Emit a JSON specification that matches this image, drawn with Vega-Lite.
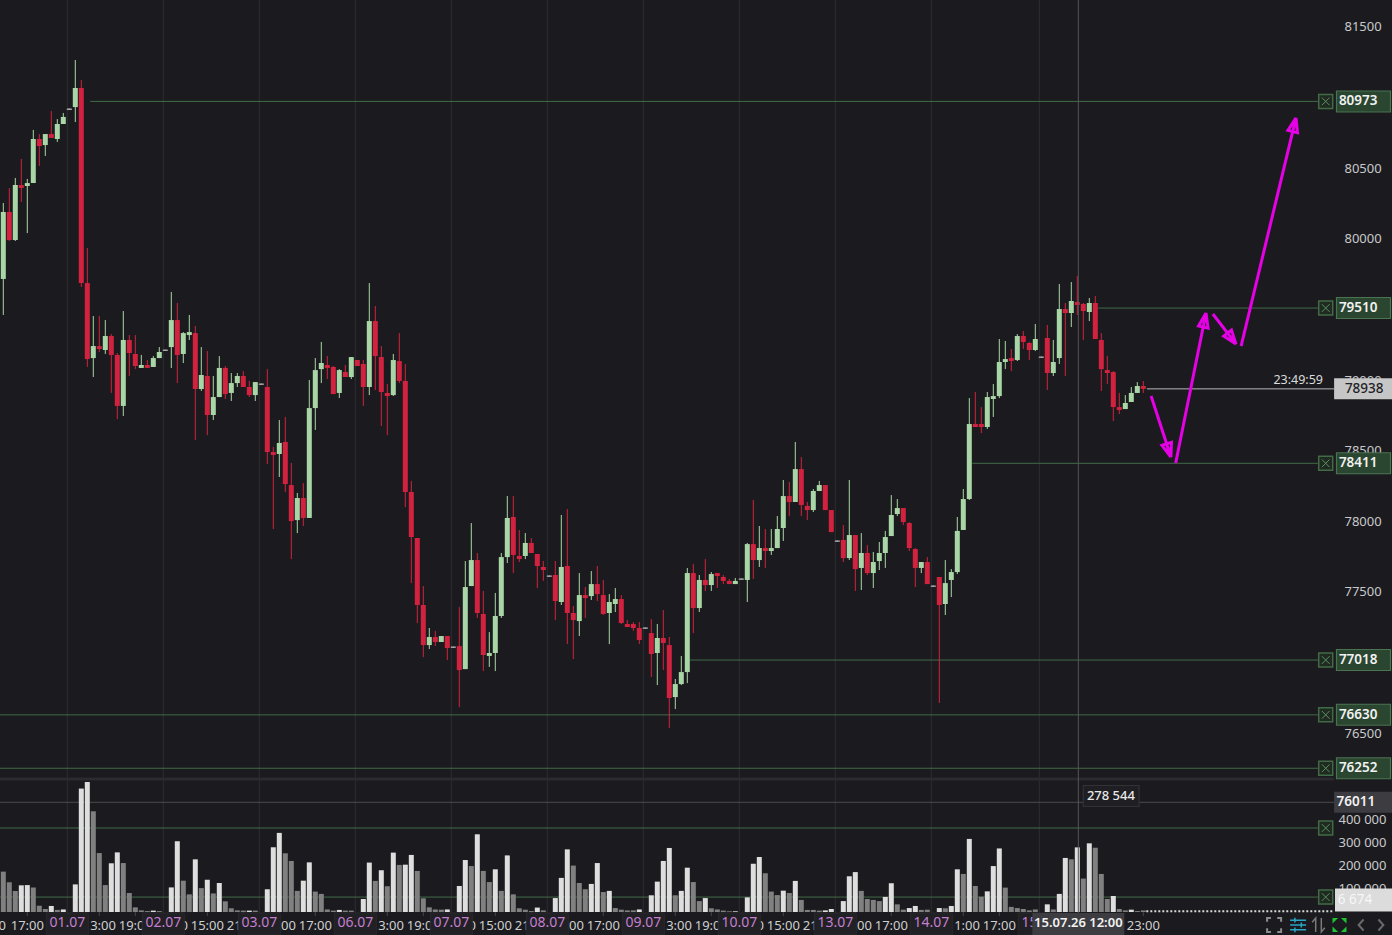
{
"$schema":"https://vega.github.io/schema/vega-lite/v6.json",
"width":1334,"height":935,"padding":0,"autosize":{"type":"pad"},"background":"#1b1b1f",
"config":{"view":{"stroke":null},"axisX":{"disable":true},"text":{"font":"Noto Sans"},"axis":{"labelFont":"Noto Sans"}},
"datasets":{
"candles":[
{"t":0,"o":79716,"h":80254,"l":79461,"c":80190,"d":"up","v":174000,"k":"dark"},
{"t":1,"o":80190,"h":80360,"l":79985,"c":79992,"d":"down","v":128000,"k":"dark"},
{"t":2,"o":79992,"h":80431,"l":79985,"c":80381,"d":"up","v":90000,"k":"dark"},
{"t":3,"o":80381,"h":80565,"l":80261,"c":80360,"d":"down","v":115000,"k":"light"},
{"t":4,"o":80374,"h":80424,"l":80041,"c":80395,"d":"up","v":116000,"k":"light"},
{"t":5,"o":80395,"h":80771,"l":80395,"c":80707,"d":"up","v":106000,"k":"dark"},
{"t":6,"o":80707,"h":80742,"l":80516,"c":80657,"d":"down","v":27000,"k":"dark"},
{"t":7,"o":80664,"h":80742,"l":80587,"c":80742,"d":"up","v":13000,"k":"dark"},
{"t":8,"o":80742,"h":80905,"l":80714,"c":80714,"d":"down","v":26000,"k":"light"},
{"t":9,"o":80707,"h":80848,"l":80686,"c":80813,"d":"up","v":9000,"k":"dark"},
{"t":10,"o":80813,"h":80891,"l":80813,"c":80863,"d":"up","v":11000,"k":"light"},
{"t":11,"o":80923,"h":80923,"l":80912,"c":80912,"d":"flat","v":0,"k":"dark"},
{"t":12,"o":80933,"h":81266,"l":80827,"c":81068,"d":"up","v":119000,"k":"light"},
{"t":13,"o":81068,"h":81125,"l":79659,"c":79687,"d":"down","v":532000,"k":"light"},
{"t":14,"o":79687,"h":79935,"l":79093,"c":79149,"d":"down","v":560000,"k":"light"},
{"t":15,"o":79156,"h":79454,"l":79022,"c":79241,"d":"up","v":434000,"k":"dark"},
{"t":16,"o":79241,"h":79454,"l":79199,"c":79220,"d":"down","v":254000,"k":"dark"},
{"t":17,"o":79213,"h":79425,"l":79185,"c":79312,"d":"up","v":116000,"k":"dark"},
{"t":18,"o":79312,"h":79326,"l":78909,"c":79178,"d":"down","v":210000,"k":"light"},
{"t":19,"o":79178,"h":79192,"l":78724,"c":78817,"d":"down","v":257000,"k":"light"},
{"t":20,"o":78817,"h":79489,"l":78746,"c":79284,"d":"up","v":211000,"k":"dark"},
{"t":21,"o":79284,"h":79319,"l":79029,"c":79192,"d":"down","v":82000,"k":"dark"},
{"t":22,"o":79185,"h":79319,"l":79078,"c":79100,"d":"down","v":20000,"k":"dark"},
{"t":23,"o":79086,"h":79178,"l":79086,"c":79107,"d":"up","v":7000,"k":"dark"},
{"t":24,"o":79107,"h":79142,"l":79086,"c":79086,"d":"down","v":4000,"k":"dark"},
{"t":25,"o":79093,"h":79170,"l":79093,"c":79156,"d":"up","v":6000,"k":"light"},
{"t":26,"o":79156,"h":79234,"l":79156,"c":79199,"d":"up","v":4000,"k":"dark"},
{"t":27,"o":79216,"h":79216,"l":79206,"c":79206,"d":"flat","v":0,"k":"dark"},
{"t":28,"o":79234,"h":79624,"l":79086,"c":79425,"d":"up","v":106000,"k":"light"},
{"t":29,"o":79425,"h":79546,"l":78979,"c":79178,"d":"down","v":305000,"k":"light"},
{"t":30,"o":79185,"h":79340,"l":79121,"c":79333,"d":"up","v":135000,"k":"dark"},
{"t":31,"o":79319,"h":79461,"l":79284,"c":79340,"d":"up","v":76000,"k":"dark"},
{"t":32,"o":79333,"h":79383,"l":78576,"c":78937,"d":"down","v":227000,"k":"light"},
{"t":33,"o":78937,"h":79234,"l":78923,"c":79036,"d":"up","v":103000,"k":"dark"},
{"t":34,"o":79029,"h":79206,"l":78611,"c":78753,"d":"down","v":139000,"k":"light"},
{"t":35,"o":78753,"h":79029,"l":78717,"c":78880,"d":"up","v":80000,"k":"dark"},
{"t":36,"o":78880,"h":79170,"l":78880,"c":79086,"d":"up","v":125000,"k":"light"},
{"t":37,"o":79086,"h":79100,"l":78866,"c":78901,"d":"down","v":46000,"k":"dark"},
{"t":38,"o":78909,"h":79050,"l":78852,"c":78979,"d":"up","v":16000,"k":"dark"},
{"t":39,"o":78979,"h":79050,"l":78951,"c":79029,"d":"up","v":7000,"k":"dark"},
{"t":40,"o":79029,"h":79064,"l":78951,"c":78951,"d":"down","v":6000,"k":"dark"},
{"t":41,"o":78951,"h":78994,"l":78880,"c":78894,"d":"down","v":6000,"k":"light"},
{"t":42,"o":78894,"h":78986,"l":78852,"c":78986,"d":"up","v":6000,"k":"dark"},
{"t":43,"o":78976,"h":78976,"l":78966,"c":78966,"d":"flat","v":0,"k":"dark"},
{"t":44,"o":78951,"h":79078,"l":78406,"c":78491,"d":"down","v":98000,"k":"light"},
{"t":45,"o":78491,"h":78526,"l":77946,"c":78470,"d":"down","v":279000,"k":"light"},
{"t":46,"o":78477,"h":78717,"l":78314,"c":78555,"d":"up","v":341000,"k":"light"},
{"t":47,"o":78562,"h":78739,"l":78208,"c":78264,"d":"down","v":253000,"k":"dark"},
{"t":48,"o":78257,"h":78413,"l":77733,"c":78002,"d":"down","v":220000,"k":"dark"},
{"t":49,"o":78009,"h":78201,"l":77917,"c":78165,"d":"up","v":91000,"k":"dark"},
{"t":50,"o":78165,"h":78271,"l":77967,"c":78024,"d":"down","v":135000,"k":"light"},
{"t":51,"o":78024,"h":79001,"l":78024,"c":78802,"d":"up","v":214000,"k":"light"},
{"t":52,"o":78802,"h":79156,"l":78647,"c":79071,"d":"up","v":88000,"k":"dark"},
{"t":53,"o":79078,"h":79270,"l":78979,"c":79121,"d":"up","v":78000,"k":"dark"},
{"t":54,"o":79107,"h":79170,"l":79008,"c":79086,"d":"down","v":11000,"k":"dark"},
{"t":55,"o":79093,"h":79100,"l":78901,"c":78901,"d":"down","v":6000,"k":"dark"},
{"t":56,"o":78909,"h":79078,"l":78873,"c":79071,"d":"up","v":9000,"k":"light"},
{"t":57,"o":79057,"h":79107,"l":79022,"c":79022,"d":"down","v":6000,"k":"dark"},
{"t":58,"o":79022,"h":79163,"l":79008,"c":79163,"d":"up","v":6000,"k":"dark"},
{"t":59,"o":79142,"h":79142,"l":79100,"c":79100,"d":"down","v":0,"k":"dark"},
{"t":60,"o":79114,"h":79142,"l":78817,"c":78951,"d":"down","v":56000,"k":"light"},
{"t":61,"o":78951,"h":79687,"l":78894,"c":79418,"d":"up","v":213000,"k":"light"},
{"t":62,"o":79418,"h":79525,"l":78930,"c":79170,"d":"down","v":134000,"k":"dark"},
{"t":63,"o":79163,"h":79241,"l":78675,"c":78916,"d":"down","v":180000,"k":"light"},
{"t":64,"o":78909,"h":78972,"l":78611,"c":78887,"d":"down","v":111000,"k":"dark"},
{"t":65,"o":78894,"h":79185,"l":78887,"c":79142,"d":"up","v":256000,"k":"light"},
{"t":66,"o":79135,"h":79333,"l":78979,"c":78994,"d":"down","v":203000,"k":"dark"},
{"t":67,"o":78994,"h":79114,"l":78101,"c":78208,"d":"down","v":204000,"k":"light"},
{"t":68,"o":78208,"h":78286,"l":77563,"c":77889,"d":"down","v":246000,"k":"light"},
{"t":69,"o":77882,"h":77882,"l":77280,"c":77408,"d":"down","v":177000,"k":"dark"},
{"t":70,"o":77408,"h":77542,"l":77039,"c":77124,"d":"down","v":59000,"k":"dark"},
{"t":71,"o":77124,"h":77245,"l":77096,"c":77181,"d":"up","v":20000,"k":"dark"},
{"t":72,"o":77181,"h":77224,"l":77117,"c":77146,"d":"down","v":11000,"k":"dark"},
{"t":73,"o":77146,"h":77188,"l":77146,"c":77188,"d":"up","v":10000,"k":"dark"},
{"t":74,"o":77188,"h":77188,"l":77018,"c":77103,"d":"down","v":11000,"k":"light"},
{"t":75,"o":77114,"h":77114,"l":77104,"c":77104,"d":"flat","v":0,"k":"dark"},
{"t":76,"o":77117,"h":77393,"l":76685,"c":76947,"d":"down","v":112000,"k":"light"},
{"t":77,"o":76954,"h":77719,"l":76954,"c":77535,"d":"up","v":224000,"k":"light"},
{"t":78,"o":77542,"h":77988,"l":77542,"c":77726,"d":"up","v":198000,"k":"dark"},
{"t":79,"o":77726,"h":77776,"l":77316,"c":77351,"d":"down","v":335000,"k":"light"},
{"t":80,"o":77344,"h":77507,"l":76940,"c":77054,"d":"down","v":177000,"k":"dark"},
{"t":81,"o":77047,"h":77216,"l":76969,"c":77068,"d":"up","v":129000,"k":"dark"},
{"t":82,"o":77068,"h":77493,"l":76940,"c":77330,"d":"up","v":184000,"k":"light"},
{"t":83,"o":77330,"h":77776,"l":77316,"c":77747,"d":"up","v":91000,"k":"dark"},
{"t":84,"o":77747,"h":78179,"l":77705,"c":78024,"d":"up","v":244000,"k":"light"},
{"t":85,"o":78031,"h":78179,"l":77634,"c":77762,"d":"down","v":76000,"k":"dark"},
{"t":86,"o":77755,"h":77939,"l":77712,"c":77733,"d":"down","v":16000,"k":"dark"},
{"t":87,"o":77755,"h":77917,"l":77733,"c":77847,"d":"up","v":10000,"k":"dark"},
{"t":88,"o":77847,"h":77882,"l":77776,"c":77776,"d":"down","v":4000,"k":"dark"},
{"t":89,"o":77769,"h":77769,"l":77528,"c":77684,"d":"down","v":19000,"k":"light"},
{"t":90,"o":77677,"h":77719,"l":77578,"c":77655,"d":"down","v":7000,"k":"dark"},
{"t":91,"o":77617,"h":77617,"l":77607,"c":77607,"d":"flat","v":0,"k":"dark"},
{"t":92,"o":77620,"h":77719,"l":77301,"c":77436,"d":"down","v":60000,"k":"light"},
{"t":93,"o":77429,"h":78045,"l":77408,"c":77677,"d":"up","v":147000,"k":"light"},
{"t":94,"o":77684,"h":78087,"l":77131,"c":77351,"d":"down","v":270000,"k":"light"},
{"t":95,"o":77351,"h":77401,"l":77025,"c":77301,"d":"down","v":200000,"k":"dark"},
{"t":96,"o":77294,"h":77634,"l":77188,"c":77478,"d":"up","v":125000,"k":"dark"},
{"t":97,"o":77478,"h":77535,"l":77316,"c":77457,"d":"down","v":98000,"k":"dark"},
{"t":98,"o":77471,"h":77648,"l":77443,"c":77556,"d":"up","v":121000,"k":"light"},
{"t":99,"o":77556,"h":77684,"l":77436,"c":77485,"d":"down","v":211000,"k":"light"},
{"t":100,"o":77478,"h":77585,"l":77337,"c":77344,"d":"down","v":86000,"k":"dark"},
{"t":101,"o":77351,"h":77485,"l":77131,"c":77429,"d":"up","v":91000,"k":"light"},
{"t":102,"o":77415,"h":77528,"l":77358,"c":77450,"d":"up","v":17000,"k":"dark"},
{"t":103,"o":77450,"h":77478,"l":77273,"c":77280,"d":"down","v":10000,"k":"dark"},
{"t":104,"o":77273,"h":77301,"l":77252,"c":77252,"d":"down","v":7000,"k":"dark"},
{"t":105,"o":77273,"h":77287,"l":77224,"c":77245,"d":"down","v":7000,"k":"dark"},
{"t":106,"o":77245,"h":77287,"l":77131,"c":77160,"d":"down","v":11000,"k":"light"},
{"t":107,"o":77249,"h":77249,"l":77239,"c":77239,"d":"flat","v":0,"k":"dark"},
{"t":108,"o":77209,"h":77308,"l":76898,"c":77061,"d":"down","v":72000,"k":"light"},
{"t":109,"o":77068,"h":77273,"l":76841,"c":77174,"d":"up","v":131000,"k":"light"},
{"t":110,"o":77174,"h":77372,"l":76947,"c":77139,"d":"down","v":220000,"k":"light"},
{"t":111,"o":77124,"h":77181,"l":76537,"c":76749,"d":"down","v":276000,"k":"light"},
{"t":112,"o":76756,"h":76884,"l":76671,"c":76848,"d":"up","v":72000,"k":"dark"},
{"t":113,"o":76848,"h":77047,"l":76841,"c":76933,"d":"up","v":91000,"k":"light"},
{"t":114,"o":76933,"h":77670,"l":76855,"c":77634,"d":"up","v":191000,"k":"light"},
{"t":115,"o":77634,"h":77698,"l":77209,"c":77386,"d":"down","v":129000,"k":"dark"},
{"t":116,"o":77386,"h":77620,"l":77358,"c":77585,"d":"up","v":47000,"k":"dark"},
{"t":117,"o":77585,"h":77733,"l":77507,"c":77549,"d":"down","v":60000,"k":"light"},
{"t":118,"o":77549,"h":77641,"l":77507,"c":77627,"d":"up","v":16000,"k":"dark"},
{"t":119,"o":77634,"h":77634,"l":77528,"c":77613,"d":"down","v":11000,"k":"dark"},
{"t":120,"o":77606,"h":77620,"l":77556,"c":77578,"d":"down","v":6000,"k":"dark"},
{"t":121,"o":77578,"h":77592,"l":77556,"c":77556,"d":"down","v":3000,"k":"dark"},
{"t":122,"o":77556,"h":77599,"l":77556,"c":77578,"d":"up","v":3000,"k":"light"},
{"t":123,"o":77596,"h":77596,"l":77586,"c":77586,"d":"flat","v":0,"k":"dark"},
{"t":124,"o":77585,"h":77847,"l":77429,"c":77839,"d":"up","v":63000,"k":"light"},
{"t":125,"o":77839,"h":78151,"l":77592,"c":77726,"d":"down","v":208000,"k":"light"},
{"t":126,"o":77726,"h":77967,"l":77677,"c":77811,"d":"up","v":237000,"k":"light"},
{"t":127,"o":77811,"h":77946,"l":77670,"c":77790,"d":"down","v":167000,"k":"dark"},
{"t":128,"o":77790,"h":77946,"l":77762,"c":77811,"d":"up","v":88000,"k":"dark"},
{"t":129,"o":77811,"h":78038,"l":77811,"c":77946,"d":"up","v":73000,"k":"dark"},
{"t":130,"o":77953,"h":78293,"l":77861,"c":78179,"d":"up","v":92000,"k":"light"},
{"t":131,"o":78179,"h":78278,"l":78038,"c":78137,"d":"down","v":82000,"k":"dark"},
{"t":132,"o":78137,"h":78562,"l":78137,"c":78370,"d":"up","v":134000,"k":"light"},
{"t":133,"o":78370,"h":78455,"l":78038,"c":78116,"d":"down","v":52000,"k":"dark"},
{"t":134,"o":78109,"h":78137,"l":78009,"c":78080,"d":"down","v":9000,"k":"dark"},
{"t":135,"o":78080,"h":78229,"l":78066,"c":78215,"d":"up","v":9000,"k":"dark"},
{"t":136,"o":78215,"h":78286,"l":78215,"c":78257,"d":"up","v":6000,"k":"dark"},
{"t":137,"o":78257,"h":78257,"l":78080,"c":78080,"d":"down","v":7000,"k":"light"},
{"t":138,"o":78080,"h":78080,"l":77924,"c":77924,"d":"down","v":13000,"k":"light"},
{"t":139,"o":77865,"h":77865,"l":77855,"c":77855,"d":"flat","v":0,"k":"dark"},
{"t":140,"o":77868,"h":77974,"l":77712,"c":77740,"d":"down","v":47000,"k":"light"},
{"t":141,"o":77740,"h":78293,"l":77726,"c":77903,"d":"up","v":154000,"k":"light"},
{"t":142,"o":77903,"h":77903,"l":77507,"c":77662,"d":"down","v":172000,"k":"light"},
{"t":143,"o":77670,"h":77917,"l":77514,"c":77776,"d":"up","v":91000,"k":"dark"},
{"t":144,"o":77776,"h":77832,"l":77620,"c":77634,"d":"down","v":56000,"k":"dark"},
{"t":145,"o":77634,"h":77783,"l":77528,"c":77712,"d":"up","v":52000,"k":"dark"},
{"t":146,"o":77719,"h":77854,"l":77655,"c":77776,"d":"up","v":47000,"k":"dark"},
{"t":147,"o":77776,"h":77932,"l":77670,"c":77889,"d":"up","v":65000,"k":"light"},
{"t":148,"o":77896,"h":78186,"l":77896,"c":78045,"d":"up","v":124000,"k":"light"},
{"t":149,"o":78052,"h":78158,"l":78038,"c":78094,"d":"up","v":33000,"k":"dark"},
{"t":150,"o":78094,"h":78094,"l":77974,"c":77995,"d":"down","v":10000,"k":"dark"},
{"t":151,"o":77988,"h":77995,"l":77790,"c":77811,"d":"down","v":17000,"k":"light"},
{"t":152,"o":77804,"h":77811,"l":77535,"c":77670,"d":"down","v":26000,"k":"light"},
{"t":153,"o":77670,"h":77712,"l":77634,"c":77712,"d":"up","v":9000,"k":"dark"},
{"t":154,"o":77712,"h":77747,"l":77556,"c":77556,"d":"down","v":10000,"k":"dark"},
{"t":155,"o":77546,"h":77546,"l":77536,"c":77536,"d":"flat","v":0,"k":"dark"},
{"t":156,"o":77606,"h":77606,"l":76714,"c":77408,"d":"down","v":17000,"k":"light"},
{"t":157,"o":77415,"h":77726,"l":77337,"c":77563,"d":"up","v":16000,"k":"dark"},
{"t":158,"o":77585,"h":77662,"l":77464,"c":77641,"d":"up","v":26000,"k":"light"},
{"t":159,"o":77641,"h":78031,"l":77627,"c":77932,"d":"up","v":184000,"k":"light"},
{"t":160,"o":77939,"h":78229,"l":77939,"c":78158,"d":"up","v":164000,"k":"dark"},
{"t":161,"o":78158,"h":78873,"l":78151,"c":78689,"d":"up","v":315000,"k":"light"},
{"t":162,"o":78689,"h":78916,"l":78668,"c":78668,"d":"down","v":112000,"k":"dark"},
{"t":163,"o":78689,"h":78809,"l":78625,"c":78668,"d":"down","v":66000,"k":"dark"},
{"t":164,"o":78668,"h":78916,"l":78654,"c":78880,"d":"up","v":89000,"k":"light"},
{"t":165,"o":78866,"h":78972,"l":78739,"c":78887,"d":"up","v":198000,"k":"light"},
{"t":166,"o":78887,"h":79291,"l":78873,"c":79128,"d":"up","v":274000,"k":"light"},
{"t":167,"o":79128,"h":79277,"l":79078,"c":79149,"d":"up","v":105000,"k":"dark"},
{"t":168,"o":79156,"h":79220,"l":79064,"c":79135,"d":"down","v":22000,"k":"dark"},
{"t":169,"o":79142,"h":79326,"l":79135,"c":79312,"d":"up","v":17000,"k":"dark"},
{"t":170,"o":79312,"h":79348,"l":79220,"c":79270,"d":"down","v":13000,"k":"dark"},
{"t":171,"o":79263,"h":79270,"l":79142,"c":79213,"d":"down","v":7000,"k":"dark"},
{"t":172,"o":79213,"h":79397,"l":79206,"c":79291,"d":"up","v":11000,"k":"dark"},
{"t":173,"o":79167,"h":79167,"l":79157,"c":79157,"d":"flat","v":0,"k":"dark"},
{"t":174,"o":79298,"h":79390,"l":78930,"c":79050,"d":"down","v":33000,"k":"light"},
{"t":175,"o":79050,"h":79284,"l":79029,"c":79128,"d":"up","v":11000,"k":"dark"},
{"t":176,"o":79156,"h":79680,"l":79114,"c":79503,"d":"up","v":78000,"k":"light"},
{"t":177,"o":79503,"h":79546,"l":79029,"c":79475,"d":"down","v":233000,"k":"light"},
{"t":178,"o":79475,"h":79694,"l":79376,"c":79560,"d":"up","v":227000,"k":"dark"},
{"t":179,"o":79553,"h":79737,"l":79461,"c":79532,"d":"down","v":278544,"k":"light"},
{"t":180,"o":79539,"h":79546,"l":79284,"c":79489,"d":"down","v":144000,"k":"dark"},
{"t":181,"o":79482,"h":79581,"l":79418,"c":79546,"d":"up","v":296000,"k":"light"},
{"t":182,"o":79546,"h":79595,"l":79291,"c":79291,"d":"down","v":277000,"k":"dark"},
{"t":183,"o":79284,"h":79333,"l":78923,"c":79078,"d":"down","v":164000,"k":"dark"},
{"t":184,"o":79071,"h":79170,"l":78972,"c":79050,"d":"down","v":56000,"k":"dark"},
{"t":185,"o":79057,"h":79064,"l":78710,"c":78809,"d":"down","v":69000,"k":"light"},
{"t":186,"o":78809,"h":78909,"l":78760,"c":78788,"d":"down","v":13000,"k":"dark"},
{"t":187,"o":78795,"h":78894,"l":78795,"c":78838,"d":"up","v":7000,"k":"dark"},
{"t":188,"o":78845,"h":78951,"l":78845,"c":78909,"d":"up","v":10000,"k":"light"},
{"t":189,"o":78909,"h":78986,"l":78909,"c":78958,"d":"up","v":4000,"k":"dark"},
{"t":190,"o":78958,"h":78994,"l":78909,"c":78938,"d":"down","v":6674,"k":"dark"}
],
"days":[
{"t":10.67,"label":"01.07"},{"t":26.67,"label":"02.07"},{"t":42.67,"label":"03.07"},{"t":58.67,"label":"06.07"},
{"t":74.67,"label":"07.07"},{"t":90.67,"label":"08.07"},{"t":106.67,"label":"09.07"},{"t":122.67,"label":"10.07"},
{"t":138.67,"label":"13.07"},{"t":154.67,"label":"14.07"},{"t":172.67,"label":"15.07"}
],
"times":[
{"t":4,"label":"17:00"},{"t":16,"label":"13:00"},{"t":22,"label":"19:00"},{"t":28,"label":"09:00"},
{"t":34,"label":"15:00"},{"t":40,"label":"21:00"},{"t":46,"label":"11:00"},{"t":52,"label":"17:00"},{"t":64,"label":"13:00"},
{"t":70,"label":"19:00"},{"t":76,"label":"09:00"},{"t":82,"label":"15:00"},{"t":88,"label":"21:00"},{"t":94,"label":"11:00"},
{"t":100,"label":"17:00"},{"t":112,"label":"13:00"},{"t":118,"label":"19:00"},{"t":124,"label":"09:00"},{"t":130,"label":"15:00"},
{"t":136,"label":"21:00"},{"t":142,"label":"11:00"},{"t":148,"label":"17:00"},{"t":160,"label":"11:00"},{"t":166,"label":"17:00"},
{"t":190,"label":"23:00"}
],
"firsttime":[{"t":-0.5,"label":"11:00"}],
"levels":[
{"p":80973,"t":14.5},{"p":79510,"t":182.5},{"p":78411,"t":161.5},{"p":77018,"t":114.4},
{"p":76630,"t":-0.55},{"p":76252,"t":-0.55},{"p":75829,"t":-0.55},{"p":75340,"t":-0.55}
],
"tags":[{"p":80973,"t":14.5},{"p":79510,"t":182.5},{"p":78411,"t":161.5},{"p":77018,"t":114.4},{"p":76630,"t":-0.55},{"p":76252,"t":-0.55}],
"pane":[{"p":76176,"t":-0.55}],
"last":[{"p":78938,"t":190.6,"timer":"23:49:59"}],
"cross":[{"p":76011,"t":179.17,"t0":-0.55,"when":"15.07.26 12:00"}],
"volume":[{"t":184.6,"p":76055,"label":"278 544"}],
"lastvol":[{"t":190,"v":6674,"label":"6 674"}],
"tail":[{"t":190.5}],
"priceticks":[{"t":100,"p":76500},{"t":100,"p":81500}],
"volticks":[{"t":100,"v":0},{"t":100,"v":500000}],
"arrows":[
{"a":1,"i":0,"t":191.3,"p":78887},{"a":1,"i":1,"t":194.6,"p":78455},{"a":1,"i":2,"t":194.7,"p":78560},{"a":1,"i":3,"t":193.1,"p":78539},{"a":1,"i":4,"t":194.6,"p":78455},
{"a":2,"i":0,"t":195.4,"p":78413},{"a":2,"i":1,"t":200.45,"p":79475},{"a":2,"i":2,"t":200.8,"p":79369},{"a":2,"i":3,"t":199.2,"p":79383},{"a":2,"i":4,"t":200.45,"p":79475},
{"a":3,"i":0,"t":201.6,"p":79468},{"a":3,"i":1,"t":205.45,"p":79255},{"a":3,"i":2,"t":204.7,"p":79355},{"a":3,"i":3,"t":203.4,"p":79312},{"a":3,"i":4,"t":205.45,"p":79255},
{"a":4,"i":0,"t":206.3,"p":79241},{"a":4,"i":1,"t":215.45,"p":80856},{"a":4,"i":2,"t":215.7,"p":80751},{"a":4,"i":3,"t":214.1,"p":80768},{"a":4,"i":4,"t":215.45,"p":80856}
]
},
"encoding":{"x":{"field":"t","type":"quantitative","scale":{"domain":[-0.55,221.783],"nice":false,"zero":false,"padding":0},"axis":null}},
"resolve":{"scale":{"y":"independent","color":"independent"},"axis":{"y":"independent"}},
"layer":[
{"data":{"name":"priceticks"},"mark":{"type":"point","opacity":0},
 "encoding":{"y":{"field":"p","type":"quantitative","scale":{"domain":[75071.5,81691],"nice":false,"zero":false},
   "axis":{"orient":"right","title":null,"values":[76500,77000,77500,78000,78500,79000,79500,80000,80500,81000,81500],"domain":false,"ticks":false,"grid":false,"labelPadding":10,"labelColor":"#c9c9cc","labelFontSize":13,"labelOverlap":false,"labelBound":false,"format":"d"}}}},
{"data":{"name":"volticks"},"mark":{"type":"point","opacity":0},
 "encoding":{"y":{"field":"v","type":"quantitative","scale":{"domain":[-99138,3931034],"nice":false,"zero":false},
   "axis":{"orient":"right","title":null,"values":[100000,200000,300000,400000,500000],"domain":false,"ticks":false,"grid":false,"labelPadding":4,"labelColor":"#c9c9cc","labelFontSize":13,"labelOverlap":false,"labelBound":false,"labelExpr":"replace(format(datum.value, ','), ',', ' ')"}}}},
{"layer":[
{"data":{"name":"days"},"mark":{"type":"rule","color":"#2d2d31","strokeWidth":1,"clip":true},"encoding":{"x":{"field":"t","type":"quantitative"}}},
{"data":{"name":"pane"},"mark":{"type":"rule","color":"#2b2b2f","strokeWidth":3,"clip":true},
 "encoding":{"x2":{"datum":221.78},"y":{"field":"p","type":"quantitative","axis":null}}},
{"data":{"name":"levels"},"mark":{"type":"rule","color":"#416b46","strokeWidth":1,"clip":true},
 "encoding":{"x2":{"datum":219.1},"y":{"field":"p","type":"quantitative","axis":null}}},
{"data":{"name":"candles"},"mark":{"type":"rule","strokeWidth":1},
 "encoding":{
  "y":{"field":"h","type":"quantitative","scale":{"domain":[75071.5,81691],"nice":false,"zero":false},"axis":null},
  "y2":{"field":"l"},
  "color":{"field":"d","type":"nominal","legend":null,"scale":{"domain":["up","down","flat"],"range":["#a9d6a6","#d3223f","#a9a9a9"]}}}},
{"data":{"name":"candles"},"mark":{"type":"bar","size":5},
 "encoding":{
  "y":{"field":"o","type":"quantitative","axis":null},"y2":{"field":"c"},
  "color":{"field":"d","type":"nominal","legend":null}}},
{"data":{"name":"cross"},"mark":{"type":"rule","color":"#4b4b4f","strokeWidth":1,"clip":true},
 "encoding":{"x":{"field":"t0","type":"quantitative"},"x2":{"datum":221.78},"y":{"field":"p","type":"quantitative","axis":null}}},
{"data":{"name":"last"},"mark":{"type":"rule","color":"#b9b9b9","strokeWidth":1},
 "encoding":{"x2":{"datum":221.78},"y":{"field":"p","type":"quantitative","axis":null}}},
{"data":{"name":"last"},"mark":{"type":"text","align":"right","dy":-9,"fontSize":12.5,"color":"#dcdcdc"},
 "encoding":{"x":{"datum":219.95,"type":"quantitative"},"y":{"field":"p","type":"quantitative","axis":null},"text":{"field":"timer"}}},
{"data":{"name":"arrows"},"mark":{"type":"line","color":"#e600e6","strokeWidth":3,"strokeJoin":"miter","interpolate":"linear"},
 "encoding":{"x":{"field":"t","type":"quantitative"},"y":{"field":"p","type":"quantitative","axis":null},"detail":{"field":"a"},"order":{"field":"i"}}},
{"data":{"name":"levels"},"mark":{"type":"point","shape":"square","size":196,"filled":true,"fill":"#1f2a21","stroke":"#416b46","strokeWidth":1.5,"opacity":1},
 "encoding":{"x":{"datum":220.4,"type":"quantitative"},"y":{"field":"p","type":"quantitative","axis":null}}},
{"data":{"name":"levels"},"mark":{"type":"point","shape":"M-0.55,-0.55L0.55,0.55M-0.55,0.55L0.55,-0.55","size":196,"filled":false,"stroke":"#5e8f64","strokeWidth":1,"opacity":1},
 "encoding":{"x":{"datum":220.4,"type":"quantitative"},"y":{"field":"p","type":"quantitative","axis":null}}},
{"data":{"name":"tags"},"mark":{"type":"rule","color":"#4a7350","strokeWidth":22},
 "encoding":{"x":{"datum":222.1,"type":"quantitative"},"x2":{"datum":231.3},"y":{"field":"p","type":"quantitative","axis":null}}},
{"data":{"name":"tags"},"mark":{"type":"rule","color":"#2b4630","strokeWidth":20},
 "encoding":{"x":{"datum":222.3,"type":"quantitative"},"x2":{"datum":231.1},"y":{"field":"p","type":"quantitative","axis":null}}},
{"data":{"name":"tags"},"mark":{"type":"text","align":"left","fontSize":13.5,"fontWeight":600,"color":"#f2f2f2"},
 "encoding":{"x":{"datum":222.6,"type":"quantitative"},"y":{"field":"p","type":"quantitative","axis":null},"text":{"field":"p","type":"quantitative","format":"d"}}},
{"data":{"name":"last"},"mark":{"type":"rule","color":"#c6c6c6","strokeWidth":21},
 "encoding":{"x":{"datum":221.8,"type":"quantitative"},"x2":{"datum":231.45},"y":{"field":"p","type":"quantitative","axis":null}}},
{"data":{"name":"last"},"mark":{"type":"text","align":"left","fontSize":13.5,"fontWeight":500,"color":"#222226"},
 "encoding":{"x":{"datum":223.6,"type":"quantitative"},"y":{"field":"p","type":"quantitative","axis":null},"text":{"field":"p","type":"quantitative","format":"d"}}},
{"data":{"name":"cross"},"mark":{"type":"rule","color":"#3d3d41","strokeWidth":21},
 "encoding":{"x":{"datum":221.8,"type":"quantitative"},"x2":{"datum":231.45},"y":{"field":"p","type":"quantitative","axis":null}}},
{"data":{"name":"cross"},"mark":{"type":"text","align":"left","fontSize":13.5,"fontWeight":600,"color":"#f2f2f2"},
 "encoding":{"x":{"datum":222.2,"type":"quantitative"},"y":{"field":"p","type":"quantitative","axis":null},"text":{"field":"p","type":"quantitative","format":"d"}}},
{"data":{"name":"volume"},"mark":{"type":"rule","color":"#323236","strokeWidth":22},
 "encoding":{"x":{"datum":179.9,"type":"quantitative"},"x2":{"datum":189.4},"y":{"field":"p","type":"quantitative","axis":null}}},
{"data":{"name":"volume"},"mark":{"type":"rule","color":"#1f1f23","strokeWidth":20},
 "encoding":{"x":{"datum":180.1,"type":"quantitative"},"x2":{"datum":189.2},"y":{"field":"p","type":"quantitative","axis":null}}},
{"data":{"name":"volume"},"mark":{"type":"text","fontSize":13,"fontWeight":500,"color":"#e8e8e8"},
 "encoding":{"y":{"field":"p","type":"quantitative","axis":null},"text":{"field":"label"}}}
]},
{"layer":[
{"data":{"name":"candles"},"mark":{"type":"bar","size":5},
 "encoding":{
  "y":{"field":"v","type":"quantitative","scale":{"domain":[-99138,3931034],"nice":false,"zero":false},"axis":null},
  "y2":{"datum":0},
  "color":{"field":"k","type":"nominal","legend":null,"scale":{"domain":["light","dark"],"range":["#dedede","#808080"]}}}},
{"data":{"name":"tail"},"mark":{"type":"rule","color":"#d8d8d8","strokeWidth":2,"strokeDash":[2,2]},
 "encoding":{"x2":{"datum":221.78},"y":{"datum":3000,"type":"quantitative","axis":null}}},
{"data":{"name":"cross"},"mark":{"type":"rule","color":"#55555a","strokeWidth":1,"clip":true},"encoding":{"x":{"field":"t","type":"quantitative"}}},
{"data":{"name":"lastvol"},"mark":{"type":"rule","color":"#dcdcdc","strokeWidth":23},
 "encoding":{"x":{"datum":221.95,"type":"quantitative"},"x2":{"datum":231.45},"y":{"datum":51724,"type":"quantitative","axis":null}}},
{"data":{"name":"lastvol"},"mark":{"type":"text","align":"left","fontSize":13.5,"color":"#f7f7f7"},
 "encoding":{"x":{"datum":222.4,"type":"quantitative"},"y":{"datum":51724,"type":"quantitative","axis":null},"text":{"field":"label"}}},
{"data":{"name":"times"},"mark":{"type":"rule","color":"#44444a","strokeWidth":1},
 "encoding":{"y":{"datum":0,"type":"quantitative","axis":null},"y2":{"datum":-17000}}},
{"data":{"name":"times"},"mark":{"type":"text","fontSize":13,"color":"#cfcfcf","clip":true},
 "encoding":{"y":{"datum":-60345,"type":"quantitative","axis":null},"text":{"field":"label"}}},
{"data":{"name":"firsttime"},"mark":{"type":"text","fontSize":13,"color":"#cfcfcf","clip":true,"align":"right","dx":5.7},
 "encoding":{"y":{"datum":-60345,"type":"quantitative","axis":null},"text":{"field":"label"}}},
{"data":{"name":"days"},"mark":{"type":"bar","size":42,"color":"#212125","stroke":"#29292d"},
 "encoding":{"y":{"datum":-4000,"type":"quantitative","axis":null},"y2":{"datum":-99000}}},
{"data":{"name":"days"},"mark":{"type":"text","fontSize":14,"color":"#c57fd0"},
 "encoding":{"y":{"datum":-47000,"type":"quantitative","axis":null},"text":{"field":"label"}}},
{"data":{"name":"cross"},"mark":{"type":"bar","size":92,"color":"#3d3d41"},
 "encoding":{"x":{"field":"t","type":"quantitative"},"y":{"datum":-4000,"type":"quantitative","axis":null},"y2":{"datum":-99000}}},
{"data":{"name":"cross"},"mark":{"type":"text","fontSize":13,"fontWeight":600,"color":"#f2f2f2"},
 "encoding":{"x":{"field":"t","type":"quantitative"},"y":{"datum":-47000,"type":"quantitative","axis":null},"text":{"field":"when"}}},
{"data":{"values":[{"t":211.8}]},"mark":{"type":"point","shape":"M-1,-0.45V-1H-0.45M0.45,-1H1V-0.45M1,0.45V1H0.45M-0.45,1H-1V0.45","size":196,"filled":false,"stroke":"#8c8c8c","strokeWidth":2,"opacity":1},
 "encoding":{"y":{"datum":-56000,"type":"quantitative","axis":null}}},
{"data":{"values":[{"t":215.8}]},"mark":{"type":"point","shape":"M-1,-0.6H1M-1,0H1M-1,0.6H1M-0.4,-0.9V-0.3M0.4,-0.3V0.3M-0.4,0.3V0.9","size":256,"filled":false,"stroke":"#2aa7c7","strokeWidth":1.5,"opacity":1},
 "encoding":{"y":{"datum":-56000,"type":"quantitative","axis":null}}},
{"data":{"values":[{"t":219.2}]},"mark":{"type":"point","shape":"M-0.4,1V-1L-0.9,-0.4M0.4,-1V1L0.9,0.4","size":196,"filled":false,"stroke":"#7a7a7a","strokeWidth":1.5,"opacity":1},
 "encoding":{"y":{"datum":-56000,"type":"quantitative","axis":null}}},
{"data":{"values":[{"t":219.2}]},"mark":{"type":"point","shape":"M-1,-1H-0.2L-1,-0.2ZM1,-1V-0.2L0.2,-1ZM1,1H0.2L1,0.2ZM-1,1V0.2L-0.2,1Z","size":196,"filled":true,"fill":"#1fc233","opacity":1},
 "encoding":{"x":{"datum":222.7,"type":"quantitative"},"y":{"datum":-56000,"type":"quantitative","axis":null}}},
{"data":{"values":[{"t":219.2}]},"mark":{"type":"point","shape":"M0.45,-1L-0.45,0L0.45,1","size":121,"filled":false,"stroke":"#6a6a6a","strokeWidth":2,"opacity":1},
 "encoding":{"x":{"datum":226.3,"type":"quantitative"},"y":{"datum":-56000,"type":"quantitative","axis":null}}},
{"data":{"values":[{"t":219.2}]},"mark":{"type":"point","shape":"M-0.45,-1L0.45,0L-0.45,1","size":121,"filled":false,"stroke":"#6a6a6a","strokeWidth":2,"opacity":1},
 "encoding":{"x":{"datum":229.6,"type":"quantitative"},"y":{"datum":-56000,"type":"quantitative","axis":null}}}
]}
]
}
